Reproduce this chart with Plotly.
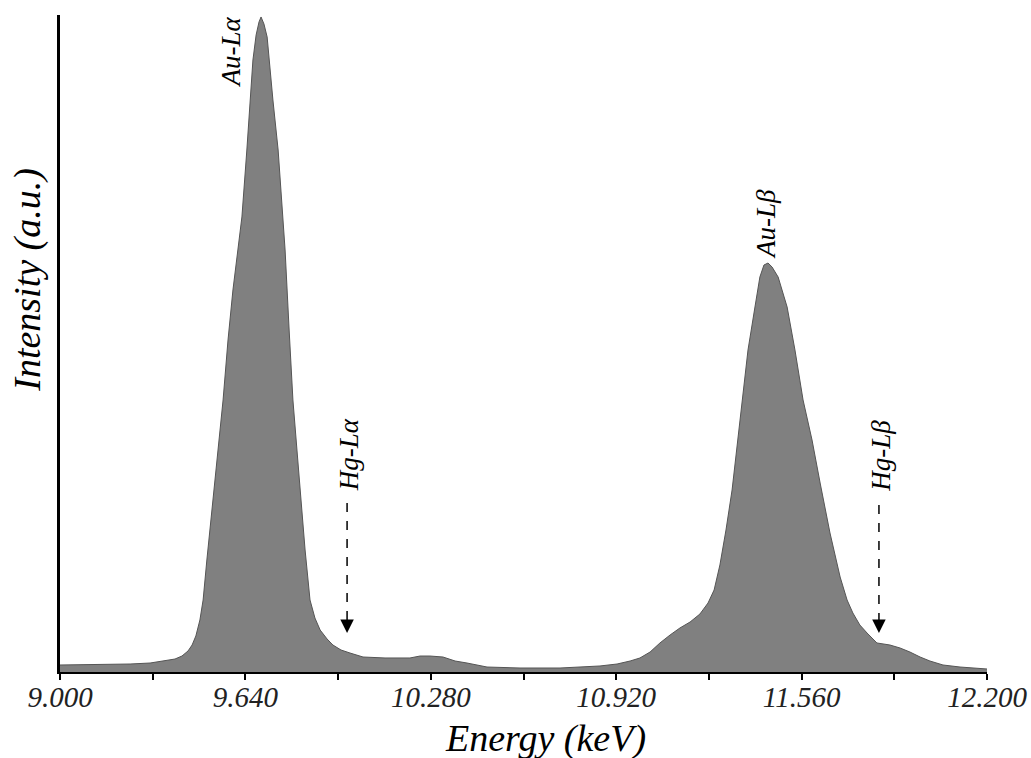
import plotly.graph_objects as go

# ---- data ----
energy_kev = [9.000, 9.138, 9.242, 9.311, 9.362, 9.397, 9.421, 9.442, 9.456, 9.469,
              9.483, 9.494, 9.507, 9.525, 9.542, 9.563, 9.580, 9.597, 9.614, 9.628,
              9.645, 9.656, 9.666, 9.677, 9.687, 9.694, 9.704, 9.715, 9.725, 9.735,
              9.753, 9.770, 9.777, 9.791, 9.804, 9.818, 9.828, 9.846, 9.863, 9.880,
              9.898, 9.922, 9.942, 9.970, 10.001, 10.046, 10.122, 10.208, 10.243, 10.277,
              10.322, 10.364, 10.405, 10.474, 10.588, 10.726, 10.864, 10.923, 10.968, 11.002,
              11.037, 11.071, 11.106, 11.140, 11.175, 11.209, 11.237, 11.258, 11.278, 11.299,
              11.320, 11.337, 11.354, 11.375, 11.399, 11.416, 11.430, 11.444, 11.458, 11.479,
              11.510, 11.537, 11.565, 11.596, 11.624, 11.658, 11.693, 11.717, 11.737, 11.761,
              11.786, 11.820, 11.865, 11.900, 11.934, 11.969, 12.003, 12.048, 12.107, 12.159,
              12.200]
intensity_au = [1.07, 1.15, 1.22, 1.37, 1.68, 1.98, 2.44, 3.21, 4.12, 5.50,
                7.94, 10.99, 17.10, 24.74, 32.37, 41.53, 50.69, 58.32, 64.43, 69.47,
                79.69, 87.33, 93.43, 97.25, 99.24, 100.0, 98.93, 96.95, 91.91, 87.33,
                79.69, 69.47, 64.43, 52.21, 41.53, 33.89, 28.24, 18.63, 10.99, 8.24,
                6.41, 5.04, 4.12, 3.36, 2.90, 2.29, 2.14, 2.14, 2.44, 2.44,
                2.29, 1.68, 1.37, 0.76, 0.61, 0.61, 0.92, 1.22, 1.68, 2.14,
                3.05, 4.43, 5.65, 6.72, 7.63, 8.85, 10.53, 12.52, 16.34, 21.68,
                27.79, 34.66, 41.53, 49.16, 55.72, 60.30, 62.13, 62.44, 61.83, 60.30,
                55.72, 49.16, 41.53, 35.42, 28.85, 21.22, 14.50, 10.99, 9.01, 7.18,
                5.95, 4.43, 4.12, 3.66, 3.05, 2.29, 1.68, 1.07, 0.76, 0.61,
                0.46]

tick_values = [9.00, 9.32, 9.64, 9.96, 10.28, 10.60, 10.92, 11.24, 11.56, 11.88, 12.20]
tick_labels = ["9.000", "", "9.640", "", "10.280", "", "10.920", "", "11.560", "", "12.200"]

# peak labels (rotated) and their positions in data units
peak_names = ["Au-L\u03b1", "Au-L\u03b2", "Hg-L\u03b1", "Hg-L\u03b2"]
peak_label_x = [9.590, 11.437, 9.998, 11.834]
peak_label_y = [94.7, 68.4, 33.1, 33.0]

# dashed arrows marking the Hg lines
arrow_energy = [9.991, 11.827]
arrow_top = [25.8, 25.5]
arrow_tip = [5.95, 5.95]

SERIF = "Liberation Serif"

fig = go.Figure()
fig.add_trace(go.Scatter(
    x=energy_kev, y=intensity_au, mode="lines",
    fill="tozeroy", fillcolor="#808080",
    line=dict(color="#555555", width=1),
    showlegend=False, hoverinfo="skip",
))

annotations = []
for name, lx, ly in zip(peak_names, peak_label_x, peak_label_y):
    annotations.append(dict(
        x=lx, y=ly, xref="x", yref="y", text=name, showarrow=False,
        textangle=-90, xanchor="center", yanchor="middle",
        font=dict(family=SERIF, size=27, color="black", style="italic"),
    ))

shapes = []
for ex, top, tip in zip(arrow_energy, arrow_top, arrow_tip):
    shapes.append(dict(
        type="line", xref="x", yref="y", x0=ex, x1=ex, y0=top, y1=tip + 1.5,
        line=dict(color="black", width=1.5, dash="dash"),
    ))
    annotations.append(dict(
        x=ex, y=tip, xref="x", yref="y", text="", showarrow=True,
        ax=0, ay=-14, arrowhead=2, arrowsize=1.8, arrowwidth=1.5,
        arrowcolor="black",
    ))

# axis titles
annotations.append(dict(
    x=0, y=0.597, xref="paper", yref="paper", xshift=-32,
    text="Intensity (a.u.)", showarrow=False, textangle=-90,
    xanchor="center", yanchor="middle",
    font=dict(family=SERIF, size=38, color="black", style="italic"),
))
annotations.append(dict(
    x=0.524, y=0, xref="paper", yref="paper", yshift=-66,
    text="Energy (keV)", showarrow=False,
    xanchor="center", yanchor="middle",
    font=dict(family=SERIF, size=38, color="black", style="italic"),
))

fig.update_layout(
    width=1031, height=758,
    margin=dict(l=60, r=44, t=15, b=86, autoexpand=False),
    paper_bgcolor="white", plot_bgcolor="white",
    shapes=shapes, annotations=annotations,
    xaxis=dict(
        range=[9.0, 12.2], tickvals=tick_values, ticktext=tick_labels,
        showline=True, linecolor="black", linewidth=2, mirror=False,
        ticks="outside", ticklen=6, tickwidth=1.5, tickcolor="black",
        ticklabelstandoff=-8,
        showgrid=False, zeroline=False, automargin=False,
        tickfont=dict(family=SERIF, size=29, color="#222222", style="italic"),
    ),
    yaxis=dict(
        range=[0, 100.3], showline=True, linecolor="black", linewidth=3,
        showticklabels=False, ticks="", showgrid=False, zeroline=False,
        automargin=False,
    ),
)

fig.write_html(
    "out.html",
    config={"displayModeBar": False},
    post_script="document.body.style.margin='0px';document.body.style.overflow='hidden';",
)
